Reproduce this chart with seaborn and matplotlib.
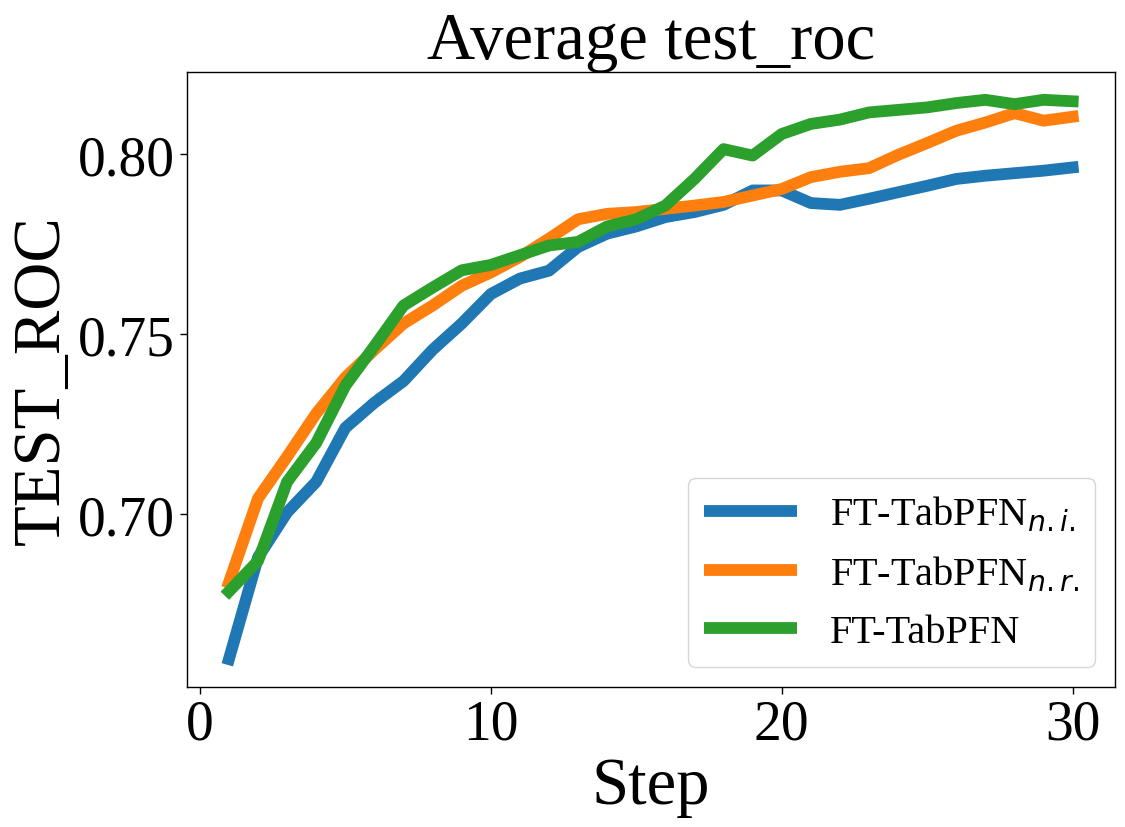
import matplotlib
matplotlib.use("Agg")
import matplotlib.pyplot as plt
import seaborn as sns
import pandas as pd

steps = list(range(1, 31))
roc_ni = [0.6597, 0.688, 0.7005, 0.709, 0.724, 0.731, 0.737, 0.7457, 0.753, 0.7612,
          0.7655, 0.7677, 0.7743, 0.778, 0.780, 0.7826, 0.784, 0.786, 0.790, 0.790,
          0.7865, 0.786, 0.7877, 0.7895, 0.7913, 0.7932, 0.7941, 0.7948, 0.7955, 0.7964]
roc_nr = [0.681, 0.7044, 0.716, 0.728, 0.738, 0.7457, 0.753, 0.758, 0.7635, 0.7672,
          0.7715, 0.7766, 0.782, 0.7835, 0.784, 0.7849, 0.7858, 0.7868, 0.7886, 0.7904,
          0.7937, 0.7952, 0.7962, 0.7999, 0.8032, 0.8066, 0.8089, 0.8115, 0.8094, 0.8105]
roc_full = [0.6785, 0.687, 0.709, 0.7198, 0.7357, 0.7467, 0.758, 0.763, 0.7678, 0.7693,
            0.772, 0.7747, 0.7757, 0.780, 0.782, 0.7858, 0.7932, 0.8015, 0.7997, 0.8057,
            0.8085, 0.8097, 0.8117, 0.8124, 0.8131, 0.8143, 0.8152, 0.814, 0.8152, 0.8148]
labels = [r"FT-TabPFN$_{n.i.}$", r"FT-TabPFN$_{n.r.}$", "FT-TabPFN"]

df = pd.concat([
    pd.DataFrame({"Step": steps, "value": v, "method": lab})
    for v, lab in zip([roc_ni, roc_nr, roc_full], labels)
], ignore_index=True)

sns.set_style("ticks")
plt.rcParams["font.family"] = ["Liberation Serif", "DejaVu Serif"]
plt.rcParams["mathtext.fontset"] = "dejavusans"
for key in ["text.color", "axes.labelcolor", "xtick.color", "ytick.color", "axes.edgecolor"]:
    plt.rcParams[key] = "black"

fig, ax = plt.subplots(figsize=(11.25, 8.28), dpi=100)
fig.subplots_adjust(left=0.166, right=0.991, top=0.912, bottom=0.169)

sns.lineplot(data=df, x="Step", y="value", hue="method", hue_order=labels,
             palette=["#1f77b4", "#ff7f0e", "#2ca02c"], linewidth=8.5,
             solid_capstyle="projecting", ax=ax)
for ln in ax.get_lines():
    ln.set_solid_capstyle("projecting")

ax.set_title("Average test_roc", fontsize=48, color="black")
ax.set_xlabel("Step", fontsize=48, color="black")
ax.set_ylabel("TEST_ROC", fontsize=48, color="black")
ax.set_xticks([0, 10, 20, 30])
ax.set_yticks([0.70, 0.75, 0.80])
ax.set_yticklabels(["0.70", "0.75", "0.80"])
ax.tick_params(axis="both", labelsize=40, width=1, length=5, color="black", labelcolor="black")
for s in ax.spines.values():
    s.set_visible(True)
    s.set_color("black")
    s.set_linewidth(1)

leg = ax.legend(loc="lower right", fontsize=29, handlelength=2.33, frameon=True)
for t in leg.get_texts():
    t.set_color("black")
for h in leg.get_lines():
    h.set_solid_capstyle("butt")

fig.savefig("out.png", dpi=100)
